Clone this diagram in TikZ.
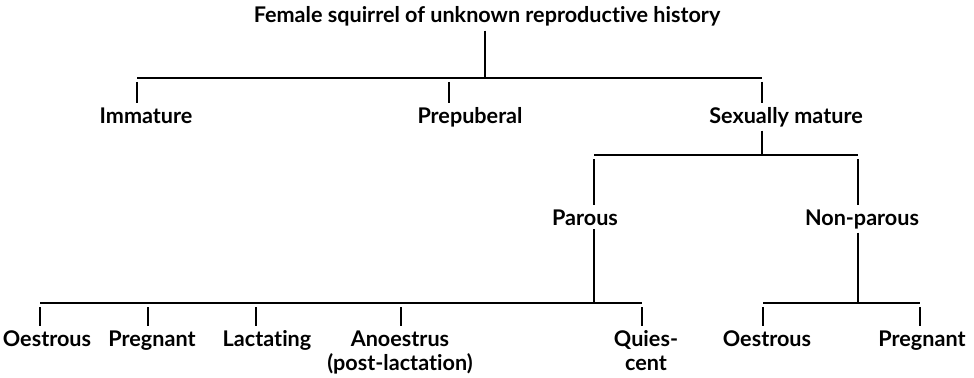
\documentclass[tikz,border=0pt]{standalone}
\usepackage{fontspec}
\setmainfont{Lato}[Ligatures=NoCommon]

\begin{document}
\begin{tikzpicture}[x=0.75pt, y=-0.75pt, line width=1pt,
		every node/.style={inner sep=0pt, outer sep=3pt, anchor=base, font=\fontsize{16.2}{18}\selectfont\bfseries},
		tick/.style={shorten <=3pt}]
	\useasboundingbox (0,0) rectangle (974,378);
	
	\node (root) at (487,23) {Female squirrel of unknown reproductive history};
	
	\node (imm) at (146,123) {Immature};
	\node (pre) at (470,123) {Prepuberal};
	\node (sm) at (786,123) {Sexually mature};
	
	\coordinate (b0) at (485,78);
	\coordinate (k1) at (137,78);
	\coordinate (k2) at (449,78);
	\coordinate (k3) at (762,78);
	
	\draw (b0 |- root.south)--(b0);
	\draw (k1)--(k3);
	\draw[tick] (k1)--(k1 |- imm.north);
	\draw[tick] (k2)--(k2 |- pre.north);
	\draw[tick] (k3)--(k3 |- sm.north);
	
	\node (par) at (585,225) {Parous};
	\node (npar) at (862,225) {Non-parous};
	
	\coordinate (b1) at (762,155);
	\coordinate (p1) at (594,155);
	\coordinate (p2) at (858,155);
	
	\draw (b1 |- sm.south)--(b1);
	\draw (p1)--(p2);
	\draw[tick] (p1)--(p1 |- par.north);
	\draw[tick] (p2)--(p2 |- npar.north);
	
	\node (oe1) at (47,346) {Oestrous};
	\node (pr1) at (152,346) {Pregnant};
	\node (lac) at (267,346) {Lactating};
	\node[align=center] (ano) at (400,370) {Anoestrus\\(post-lactation)};
	\node[align=center] (qui) at (646,370) {Quies-\\cent};
	
	\node (oe2) at (767,346) {Oestrous};
	\node (pr2) at (922,346) {Pregnant};
	
	\coordinate (b2) at (594,303);
	\coordinate (q1) at (40,303);
	\coordinate (q2) at (148,303);
	\coordinate (q3) at (256,303);
	\coordinate (q4) at (401,303);
	\coordinate (q5) at (642,303);
	
	\draw (b2 |- par.south)--(b2);
	\draw (q1)--(q5);
	\draw[tick] (q1)--(q1 |- oe1.north);
	\draw[tick] (q2)--(q2 |- pr1.north);
	\draw[tick] (q3)--(q3 |- lac.north);
	\draw[tick] (q4)--(q4 |- ano.north);
	\draw[tick] (q5)--(q5 |- qui.north);
	
	\coordinate (b3) at (858,303);
	\coordinate (r1) at (763,303);
	\coordinate (r2) at (920,303);
	
	\draw (b3 |- npar.south)--(b3);
	\draw (r1)--(r2);
	\draw[tick] (r1)--(r1 |- oe2.north);
	\draw[tick] (r2)--(r2 |- pr2.north);
\end{tikzpicture}
\end{document}
